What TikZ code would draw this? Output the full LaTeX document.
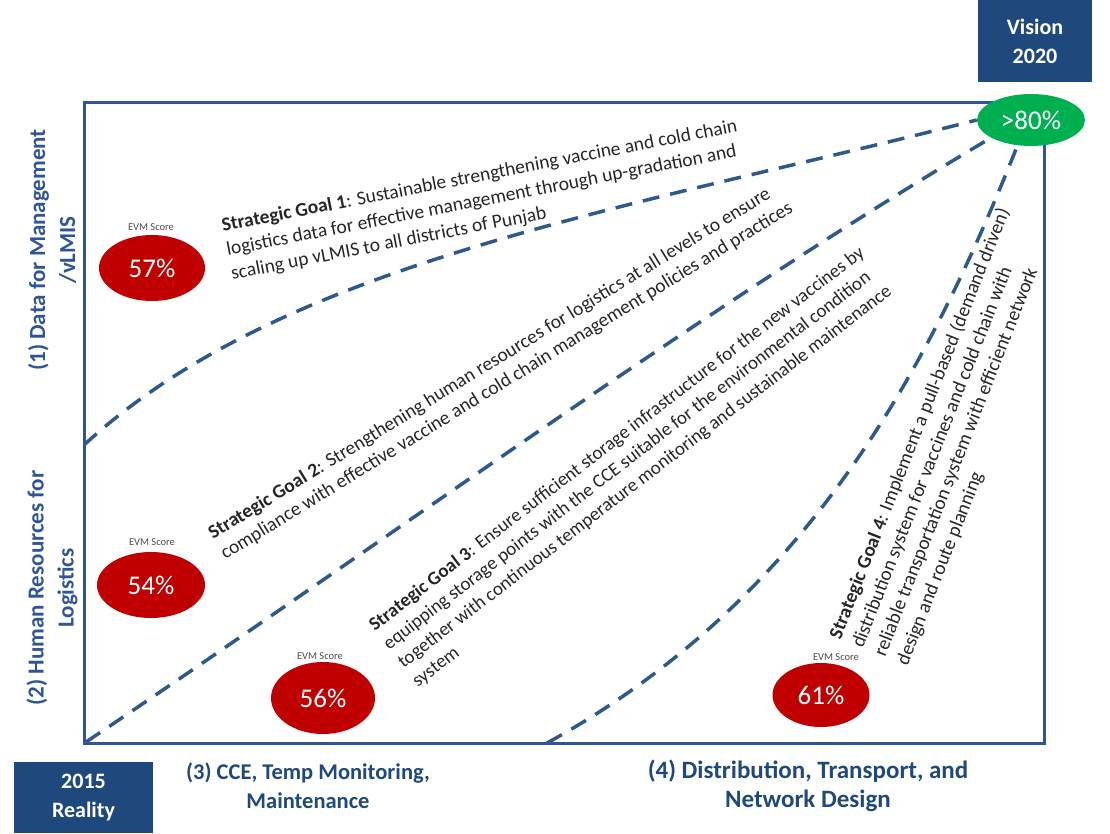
\documentclass[tikz,border=0pt]{standalone}
\usepackage{fontspec}
\setmainfont{Carlito}
\usetikzlibrary{shapes.geometric}
\definecolor{navy}{RGB}{31,73,125}
\definecolor{axisblue}{RGB}{47,85,151}
\definecolor{dashblue}{RGB}{46,89,140}
\definecolor{evmred}{RGB}{192,0,0}
\definecolor{goalgreen}{RGB}{0,176,80}
\tikzset{
  yearbox/.style={fill=navy, text=white, font=\fontsize{22}{29}\selectfont\bfseries, align=center, inner sep=0},
  score/.style={ellipse, fill=evmred, text=white, font=\fontsize{27}{27}\selectfont, inner sep=0},
  evmlabel/.style={font=\fontsize{10.5}{12}\selectfont, text=black!70, inner sep=0},
  target/.style={ellipse, fill=goalgreen, text=white, font=\fontsize{27}{27}\selectfont, inner sep=0},
  pathway/.style={draw=dashblue, line width=3.5pt, dash pattern=on 17pt off 11pt},
  goaltext/.style={font=\fontsize{19}{23.5}\selectfont, align=left, inner sep=0, anchor=north west, text=black!85},
  axislabel/.style={font=\fontsize{23}{30}\selectfont\bfseries, text=axisblue, align=center, inner sep=0},
  bottomlabel/.style={text=navy, align=center, inner sep=0},
  frame/.style={draw=axisblue, line width=3pt}
}
\begin{document}
\begin{tikzpicture}[x=1pt, y=-1pt]
\useasboundingbox (0,0) rectangle (1110,833);

% outer frame of the four areas
\draw[frame] (84,102) rectangle (1044,743);

% year boxes
\node[yearbox, minimum width=114pt, minimum height=82pt] (vision) at (1035,41) {Vision\\2020};
\node[yearbox, minimum width=139pt, minimum height=71pt] (reality) at (83.5,797.5) {2015\\Reality};

% target ellipse
\node[target, minimum width=108pt, minimum height=52pt] (goal) at (1031,120) {>80\%};

% axis labels
\node[axislabel, rotate=90] (area1) at (52,250) {(1) Data for Management\\/vLMIS};
\node[axislabel, rotate=90] (area2) at (52,588) {(2) Human Resources for\\Logistics};
\node[bottomlabel, font=\fontsize{22.5}{29}\selectfont\bfseries] (area3) at (308,786) {(3) CCE, Temp Monitoring,\\Maintenance};
\node[bottomlabel, font=\fontsize{25}{29}\selectfont\bfseries] (area4) at (808,786) {(4) Distribution, Transport, and\\Network Design};

% EVM scores
\node[score, minimum width=106pt, minimum height=66pt] (s1) at (152,268) {57\%};
\node[evmlabel] (e1) at (151,227) {EVM Score};
\node[score, minimum width=108pt, minimum height=66pt] (s2) at (151,585) {54\%};
\node[evmlabel] (e2) at (152,542) {EVM Score};
\node[score, minimum width=104pt, minimum height=72pt] (s3) at (323,698) {56\%};
\node[evmlabel] (e3) at (320,656) {EVM Score};
\node[score, minimum width=97pt, minimum height=64pt] (s4) at (821,695) {61\%};
\node[evmlabel] (e4) at (836,657) {EVM Score};

% pathways towards the target
\coordinate (p1) at (84,445);
\coordinate (p2) at (86,742);
\coordinate (p3) at (547,743);
\draw[pathway] (p1) .. controls (284,261) and (625,210) .. (goal.180);
\draw[pathway] (p2) .. controls (387,540) and (700,310) .. (goal.204);
\draw[pathway] (p3) .. controls (807,600) and (928,370) .. (goal.242);

% strategic goals
\node[goaltext, rotate=11, font=\fontsize{19.5}{24.5}\selectfont] (g1) at (220.3,218) {\textbf{Strategic Goal 1}: Sustainable strengthening vaccine and cold chain\\logistics data for effective management  through up-gradation and\\scaling up vLMIS to all districts of Punjab};
\node[goaltext, rotate=31.5, font=\fontsize{19.5}{23.5}\selectfont] (g2) at (205.7,528) {\textbf{Strategic Goal 2}: Strengthening human resources for logistics at all levels to ensure\\compliance with effective vaccine and cold chain management policies and practices};
\node[goaltext, rotate=37.5] (g3) at (366.5,620.9) {\textbf{Strategic Goal 3}: Ensure sufficient storage infrastructure for the new vaccines by\\equipping storage points with the CCE suitable for the environmental condition\\together with continuous temperature monitoring and sustainable maintenance\\system};
\node[goaltext, rotate=68.5, font=\fontsize{19.5}{24}\selectfont] (g4) at (827,634.9) {\textbf{Strategic Goal 4}: Implement a pull-based (demand driven)\\distribution system for vaccines and cold chain with\\reliable transportation system with efficient network\\design and route planning};
\end{tikzpicture}
\end{document}
